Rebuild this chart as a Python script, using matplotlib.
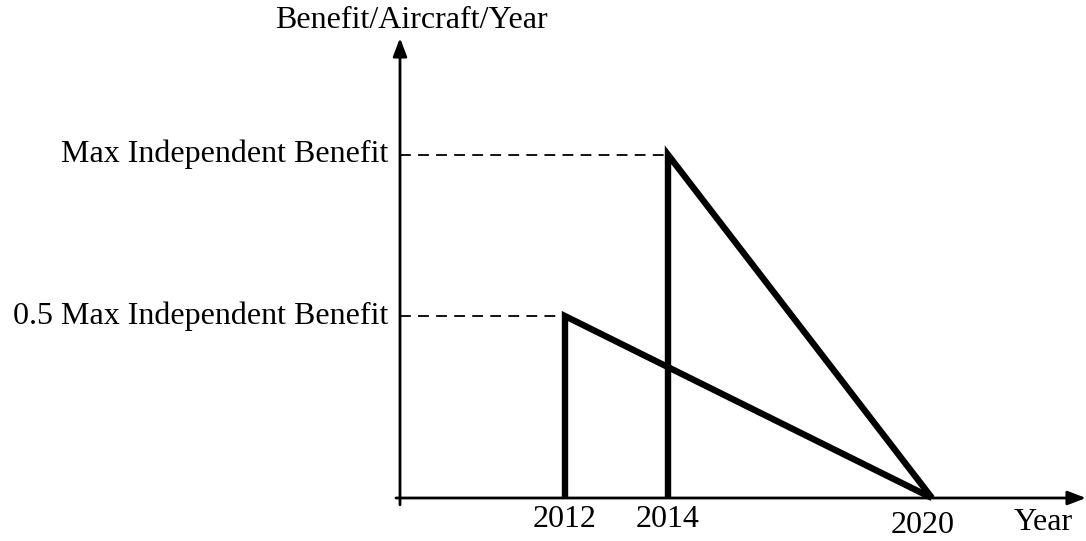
import matplotlib.pyplot as plt

# schematic x positions (one unit ~ 100 px in the original)
year_labels = ["2012", "2014", "2020"]
year_pos = [1.65, 2.68, 5.32]

# peak benefit for the two cases (relative to max independent benefit)
peak_labels = ["0.5 Max Independent Benefit", "Max Independent Benefit"]
peak_vals = [0.53, 1.0]
start_idx = [0, 1]   # 2012 and 2014 starts
end_x = year_pos[2]

x_max = 6.86
y_max = 1.34

plt.rcParams['font.family'] = ['Liberation Serif', 'DejaVu Serif']

fig = plt.figure(figsize=(10.86, 5.41), dpi=100)
ax = fig.add_axes([400 / 1086, 43 / 541, 686 / 1086, 460 / 541])
ax.set_xlim(0, x_max)
ax.set_ylim(0, y_max)
ax.set_axis_off()

# axes with arrow heads
arrow = dict(arrowstyle='-|>,head_length=1.1,head_width=0.42',
             color='black', lw=2, shrinkA=0, shrinkB=0)
ax.annotate("", xy=(x_max, 0), xytext=(-0.04, 0), arrowprops=arrow,
            annotation_clip=False)
ax.annotate("", xy=(0, y_max), xytext=(0, -0.02), arrowprops=arrow,
            annotation_clip=False)

# benefit profiles
for i, v in zip(start_idx, peak_vals):
    x0 = year_pos[i]
    ax.plot([0, x0], [v, v], color='black', lw=1.3, ls=(0, (6, 4)))
    ax.plot([x0, x0, end_x], [0, v, 0], color='black', lw=4.6,
            solid_joinstyle='miter', solid_capstyle='butt', clip_on=False)

fs = 23
for lab, v in zip(peak_labels, peak_vals):
    ax.text(-0.12, v, lab, ha='right', va='center', fontsize=fs)

for lab, x in zip(year_labels, year_pos):
    if lab == "2020":
        ax.text(x - 0.09, -0.102, lab, ha='center', va='baseline', fontsize=fs)
    else:
        ax.text(x, -0.085, lab, ha='center', va='baseline', fontsize=fs)

ax.text(6.43, -0.093, "Year", ha='center', va='baseline', fontsize=fs)
ax.text(0.11, 1.37, "Benefit/Aircraft/Year", ha='center', va='baseline',
        fontsize=fs)

fig.savefig("out.png", dpi=100)
